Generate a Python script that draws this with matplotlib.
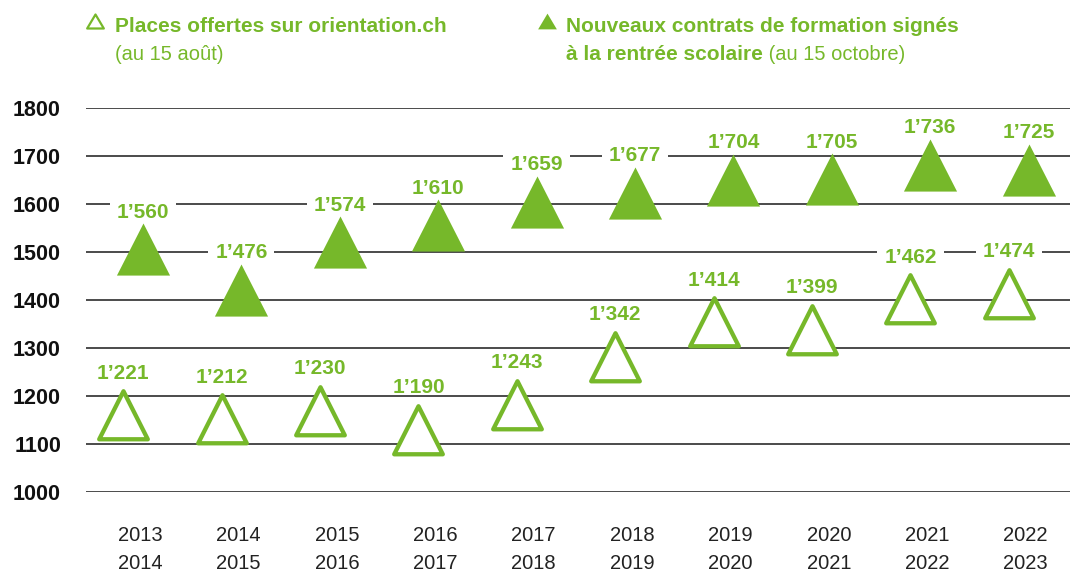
import matplotlib
matplotlib.use('Agg')
import matplotlib.pyplot as plt
from matplotlib.path import Path
from matplotlib.markers import MarkerStyle
from matplotlib.lines import Line2D

plt.rcParams['font.family'] = ['Liberation Sans', 'DejaVu Sans']

#data
years = ['2013\n2014', '2014\n2015', '2015\n2016', '2016\n2017', '2017\n2018',
         '2018\n2019', '2019\n2020', '2020\n2021', '2021\n2022', '2022\n2023']
places = [1221, 1212, 1230, 1190, 1243, 1342, 1414, 1399, 1462, 1474]
contrats = [1560, 1476, 1574, 1610, 1659, 1677, 1704, 1705, 1736, 1725]
y_ticks = [1000, 1100, 1200, 1300, 1400, 1500, 1600, 1700, 1800]

green = '#76b82a'

def fmt(v):
    return f'{v // 1000}\u2019{v % 1000:03d}'

def tri(apex, half, base):
    return Path([(0, apex), (-half, base), (half, base), (0, apex)],
                [Path.MOVETO, Path.LINETO, Path.LINETO, Path.CLOSEPOLY])

def label_box(x0, y0, width, height, mutation_size):
    # white box from baseline to cap height, wider on the sides
    d = 0.2 * mutation_size
    px = 0.33 * mutation_size
    return Path([(x0 - px, y0 + d), (x0 + width + px, y0 + d),
                 (x0 + width + px, y0 + height), (x0 - px, y0 + height),
                 (x0 - px, y0 + d)], closed=True)

#markers with apex on the value
tri_full = MarkerStyle(tri(0, 0.51, -1))
tri_open = MarkerStyle(tri(-0.09, 0.46, -1), joinstyle='miter')

fig = plt.figure(figsize=(10.7, 5.72), dpi=100)
ax = fig.add_axes([86/1070, 79.6/572, 984/1070, 384.6/572])
ax.set_xlim(-0.549, 9.451)
ax.set_ylim(1000, 1800)
for s in ax.spines.values():
    s.set_visible(False)

#grid
for t in y_ticks:
    ax.axhline(t, color='#1a1a1a', lw=1.1, zorder=1)

x = list(range(len(years)))
x_open = [i - 0.17 for i in x]
x_full = [i + 0.03 for i in x]

ax.plot(x_full, contrats, ls='none', marker=tri_full, ms=75, mew=0,
        color=green, zorder=3, clip_on=False)
ax.plot(x_open, places, ls='none', marker=tri_open, ms=76, mew=3.1,
        mec=green, mfc='white', zorder=3, clip_on=False)

#value labels
box = dict(boxstyle=label_box, fc='white', ec='none')
for xi, v in zip(x_full, contrats):
    ax.annotate(fmt(v), (xi, v), xytext=(0, 4), textcoords='offset points',
                ha='center', va='baseline', fontsize=15, fontweight='bold',
                color=green, zorder=2, bbox=box)
for xi, v in zip(x_open, places):
    ax.annotate(fmt(v), (xi, v), xytext=(0, 5.5), textcoords='offset points',
                ha='center', va='baseline', fontsize=15, fontweight='bold',
                color=green, zorder=2, bbox=box)

#ticks
ax.set_yticks(y_ticks)
ax.set_yticklabels([str(t) for t in y_ticks], fontsize=15.5, fontweight='bold', color='#111111')
ax.set_xticks(x)
ax.set_xticklabels(years, fontsize=14.5, color='#222222', linespacing=1.6)
ax.tick_params(axis='both', length=0)
ax.tick_params(axis='y', pad=18)
ax.tick_params(axis='x', pad=24)

#legend
leg_tri = MarkerStyle(tri(0.42, 0.5, -0.42), joinstyle='miter')
fig.add_artist(Line2D([95/1070], [1 - 21/572], transform=fig.transFigure, ls='none',
                      marker=leg_tri, ms=12, mew=1.6, mec=green, mfc='white'))
fig.add_artist(Line2D([546.5/1070], [1 - 21/572], transform=fig.transFigure, ls='none',
                      marker=leg_tri, ms=13.5, mew=0, color=green))

fig.text(115/1070, 1 - 32/572, 'Places offertes sur orientation.ch', fontsize=15,
         fontweight='bold', color=green, va='baseline')
fig.text(115/1070, 1 - 60/572, '(au 15 ao\u00fbt)', fontsize=14.5, color=green, va='baseline')

fig.text(566/1070, 1 - 32/572, 'Nouveaux contrats de formation sign\u00e9s', fontsize=15,
         fontweight='bold', color=green, va='baseline')
t2 = fig.text(566/1070, 1 - 60/572, '\u00e0 la rentr\u00e9e scolaire', fontsize=15,
              fontweight='bold', color=green, va='baseline')
ax.annotate(' (au 15 octobre)', xy=(1, 0), xycoords=t2, fontsize=14.5, color=green,
            va='bottom', ha='left', annotation_clip=False)

fig.savefig('out.png', dpi=100)
